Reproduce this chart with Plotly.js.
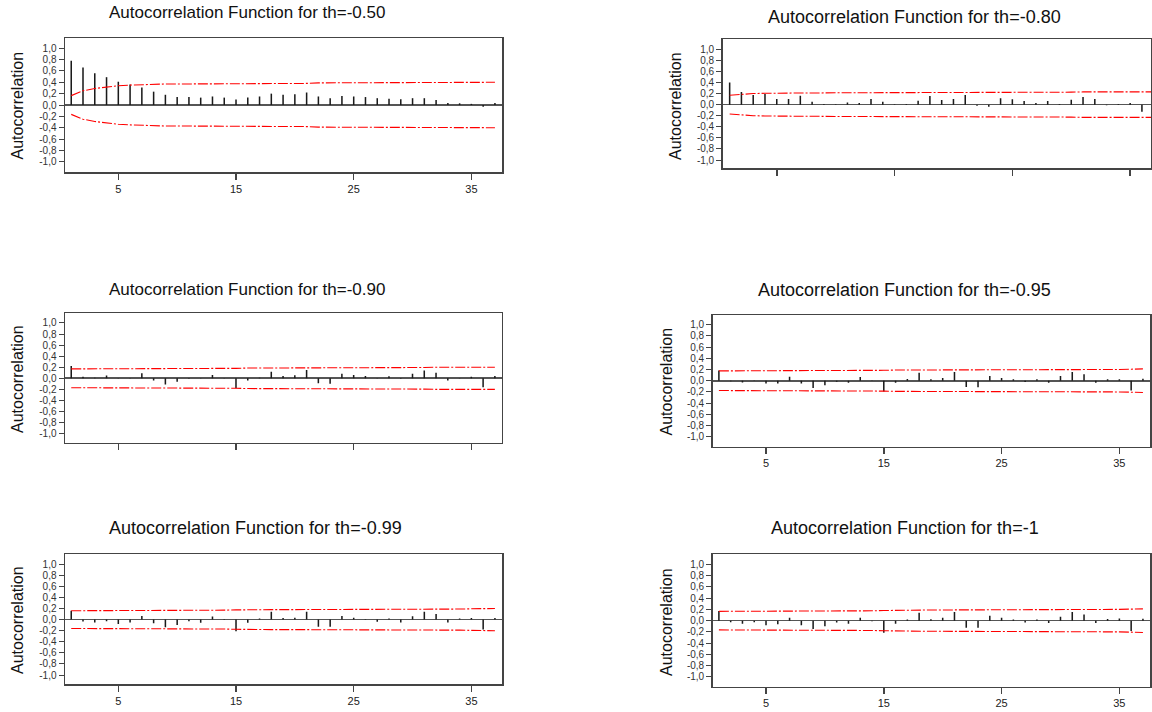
<!DOCTYPE html>
<html><head><meta charset="utf-8">
<script src="https://cdn.plot.ly/plotly-3.0.1.min.js"></script>
<style>html,body{margin:0;padding:0;background:#fff}#chart{width:1152px;height:712px}</style>
</head><body><div id="chart"></div>
<script>
// ---------- data ----------
const lags = [1,2,3,4,5,6,7,8,9,10,11,12,13,14,15,16,17,18,19,20,21,22,23,24,25,26,27,28,29,30,31,32,33,34,35,36,37];

const titles = [
  "Autocorrelation Function for th=-0.50",
  "Autocorrelation Function for th=-0.80",
  "Autocorrelation Function for th=-0.90",
  "Autocorrelation Function for th=-0.95",
  "Autocorrelation Function for th=-0.99",
  "Autocorrelation Function for th=-1"
];

const acf_050 = [0.78,0.66,0.56,0.49,0.41,0.36,0.31,0.235,0.18,0.14,0.14,0.13,0.15,0.13,0.095,0.13,0.15,0.20,0.18,0.19,0.22,0.15,0.12,0.16,0.15,0.14,0.12,0.11,0.10,0.12,0.12,0.09,0.035,0.03,0.02,-0.03,0.035];
const acf_080 = [0.40,0.23,0.175,0.19,0.10,0.10,0.16,0.05,0.01,0.005,0.04,0.03,0.10,0.05,0.005,0.01,0.07,0.155,0.085,0.10,0.175,-0.02,-0.04,0.115,0.095,0.065,0.03,0.065,0.01,0.09,0.14,0.10,-0.01,0.01,0.03,-0.13,0.02];
const acf_090 = [0.22,0.03,0.01,0.05,0.005,0.005,0.09,-0.04,-0.11,-0.06,-0.01,0.005,0.06,-0.005,-0.18,-0.04,0.01,0.12,0.04,0.055,0.15,-0.09,-0.10,0.08,0.06,0.04,0.005,0.035,-0.01,0.08,0.14,0.10,-0.04,0.005,0.03,-0.16,0.04];
const acf_095 = [0.18,-0.01,-0.03,-0.005,-0.05,-0.05,0.07,-0.05,-0.13,-0.08,-0.02,-0.035,0.065,0.005,-0.19,-0.035,0.03,0.14,0.025,0.05,0.155,-0.11,-0.115,0.085,0.05,0.025,-0.025,0.025,-0.035,0.085,0.155,0.115,-0.035,0.025,0.025,-0.175,0.035];
const acf_099 = [0.16,-0.035,-0.05,-0.03,-0.08,-0.05,0.065,-0.065,-0.14,-0.095,-0.03,-0.055,0.055,-0.005,-0.21,-0.055,0.02,0.14,0.03,0.035,0.14,-0.13,-0.13,0.065,0.035,0.01,-0.04,0.02,-0.05,0.06,0.14,0.10,-0.05,0.02,0.03,-0.18,0.03];
const acf_100 = [0.17,-0.03,-0.055,-0.03,-0.08,-0.065,0.05,-0.08,-0.15,-0.10,-0.035,-0.055,0.05,-0.01,-0.215,-0.055,0.02,0.14,0.025,0.05,0.155,-0.125,-0.125,0.085,0.05,0.02,-0.035,0.02,-0.04,0.07,0.155,0.11,-0.04,0.03,0.04,-0.185,0.035];

// upper significance limits (lower limit is the mirror image)
const lim_050 = [0.165,0.25,0.29,0.32,0.34,0.35,0.36,0.365,0.37,0.37,0.37,0.37,0.37,0.37,0.37,0.37,0.37,0.375,0.38,0.38,0.38,0.39,0.39,0.39,0.39,0.39,0.39,0.39,0.39,0.39,0.40,0.40,0.40,0.40,0.40,0.40,0.40];
const lim_080 = [0.17,0.19,0.20,0.205,0.21,0.21,0.21,0.21,0.215,0.215,0.215,0.215,0.215,0.215,0.215,0.215,0.215,0.22,0.22,0.22,0.22,0.22,0.22,0.225,0.225,0.225,0.225,0.225,0.225,0.225,0.23,0.23,0.23,0.23,0.23,0.23,0.23];
const lim_090 = [0.17,0.17,0.17,0.17,0.17,0.17,0.17,0.175,0.175,0.18,0.18,0.18,0.18,0.18,0.18,0.185,0.185,0.185,0.19,0.19,0.19,0.19,0.195,0.195,0.195,0.195,0.195,0.195,0.195,0.195,0.195,0.20,0.20,0.20,0.20,0.20,0.20];
const lim_095 = [0.175,0.175,0.175,0.175,0.175,0.175,0.175,0.18,0.18,0.18,0.18,0.18,0.18,0.18,0.185,0.19,0.19,0.19,0.195,0.195,0.195,0.195,0.20,0.20,0.20,0.20,0.20,0.20,0.20,0.20,0.20,0.20,0.20,0.20,0.20,0.205,0.21];
const lim_099 = [0.16,0.16,0.16,0.16,0.16,0.165,0.165,0.165,0.17,0.17,0.17,0.17,0.17,0.17,0.175,0.18,0.18,0.18,0.18,0.18,0.185,0.185,0.185,0.19,0.19,0.19,0.19,0.19,0.19,0.19,0.19,0.19,0.19,0.19,0.195,0.20,0.20];
const lim_100 = [0.165,0.165,0.165,0.165,0.165,0.17,0.17,0.17,0.175,0.175,0.175,0.175,0.175,0.175,0.18,0.185,0.185,0.185,0.19,0.19,0.19,0.19,0.195,0.195,0.195,0.195,0.195,0.195,0.195,0.195,0.195,0.195,0.195,0.20,0.20,0.205,0.21];

const yTickVals = [-1,-0.8,-0.6,-0.4,-0.2,0,0.2,0.4,0.6,0.8,1];
const yTickText = ["-1,0","-0,8","-0,6","-0,4","-0,2","0,0","0,2","0,4","0,6","0,8","1,0"];
const xTickVals = [5,15,25,35];
const yAxisLabel = "Autocorrelation";

// ---------- layout geometry (pixels) ----------
const W = 1152, H = 712;
const panels = [
  {acf: acf_050, lim: lim_050, px:[65,502],    py:[38,172],    xr:[0.47,37.6], yr:[-1.18,1.18], xl:true,  t:[247,12,17],  a:[17.5,106]},
  {acf: acf_080, lim: lim_080, px:[722.7,1151],py:[39.3,168.3],xr:[0.41,36.77],yr:[-1.15,1.18], xl:false, t:[914,17,18],  a:[676,106]},
  {acf: acf_090, lim: lim_090, px:[65,501.7],  py:[313.3,442.7],xr:[0.47,37.58],yr:[-1.163,1.174], xl:false, t:[247,290,17], a:[17.5,379.5]},
  {acf: acf_095, lim: lim_095, px:[712.7,1150],py:[315,446.7], xr:[0.474,37.6],yr:[-1.175,1.17], xl:true,  t:[904,290,18], a:[666,381.5]},
  {acf: acf_099, lim: lim_099, px:[65,502],    py:[554.3,684.3],xr:[0.47,37.6], yr:[-1.166,1.177], xl:true, t:[255,528,18], a:[17.5,620.5]},
  {acf: acf_100, lim: lim_100, px:[712.7,1150],py:[554.3,686.7],xr:[0.474,37.6],yr:[-1.175,1.18], xl:true,  t:[905,528,18], a:[666,622]}
];

const FONT = "Liberation Sans, Arial, sans-serif";
const traces = [];
const layout = {
  width: W, height: H, margin:{l:0,r:0,t:0,b:0},
  paper_bgcolor:"#fff", plot_bgcolor:"#fff", showlegend:false,
  font:{family:FONT, color:"#222"}, annotations:[]
};

panels.forEach((p, i) => {
  const k = i + 1;
  const xa = "x" + k, ya = "y" + k;
  traces.push({type:"bar", x:lags, y:p.acf, xaxis:xa, yaxis:ya, width:0.13,
               marker:{color:"#1a1a1a", line:{width:0}}, hoverinfo:"x+y"});
  const dash = "10px,2px,2px,2px";
  traces.push({type:"scatter", mode:"lines", x:lags, y:p.lim, xaxis:xa, yaxis:ya,
               line:{color:"rgb(255,0,0)", width:1.1, dash:dash}});
  traces.push({type:"scatter", mode:"lines", x:lags, y:p.lim.map(v => -v), xaxis:xa, yaxis:ya,
               line:{color:"rgb(255,0,0)", width:1.1, dash:dash}});

  layout["xaxis" + k] = {
    domain:[p.px[0]/W, p.px[1]/W], range:p.xr, anchor:ya,
    tickmode:"array", tickvals:xTickVals, ticktext:xTickVals.map(String),
    ticks:"outside", ticklen:6, tickwidth:1.5, tickcolor:"#444",
    showticklabels:p.xl, tickfont:{size:11, family:FONT, color:"#222"},
    showline:true, mirror:true, linecolor:"#444", linewidth:1.5,
    showgrid:false, zeroline:false, fixedrange:true
  };
  layout["yaxis" + k] = {
    domain:[1 - p.py[1]/H, 1 - p.py[0]/H], range:p.yr, anchor:xa,
    tickmode:"array", tickvals:yTickVals, ticktext:yTickText,
    ticks:"outside", ticklen:5, tickwidth:1, tickcolor:"#444",
    tickfont:{size:10, family:FONT, color:"#333"},
    showline:true, mirror:true, linecolor:"#444", linewidth:1.5,
    showgrid:false, zeroline:true, zerolinecolor:"#555", zerolinewidth:1.6, fixedrange:true
  };
  layout.annotations.push({
    text:titles[i], xref:"paper", yref:"paper", x:p.t[0]/W, y:1 - p.t[1]/H,
    xanchor:"center", yanchor:"middle", showarrow:false,
    font:{size:p.t[2], family:FONT, color:"#111"}
  });
  layout.annotations.push({
    text:yAxisLabel, xref:"paper", yref:"paper", x:p.a[0]/W, y:1 - p.a[1]/H,
    xanchor:"center", yanchor:"middle", showarrow:false, textangle:-90,
    font:{size:16, family:FONT, color:"#111"}
  });
});

Plotly.newPlot("chart", traces, layout, {displayModeBar:false, staticPlot:true});
</script>
</body></html>
